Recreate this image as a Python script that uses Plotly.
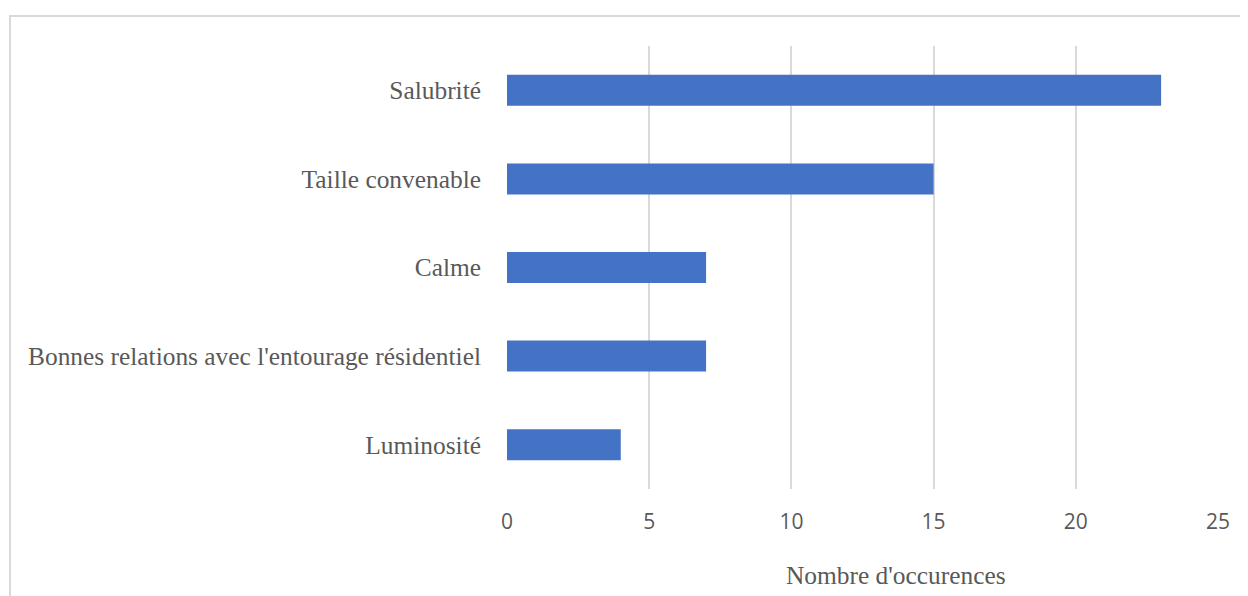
import plotly.graph_objects as go

categories = ["Salubrité", "Taille convenable", "Calme",
              "Bonnes relations avec l'entourage résidentiel", "Luminosité"]
values = [23, 15, 7, 7, 4]
x_ticks = [0, 5, 10, 15, 20, 25]
x_title = "Nombre d'occurences"

# page body has an 8px default margin; compensate so the chart lands where the reference is
OFF = 8
W, H = 1248, 596
L, R, T, B = 507 - OFF, 38, 46 - OFF, 115
pw, ph = W - L - R, H - T - B

def px_x(p):
    return (p - OFF - L) / pw

def px_y(p):
    return (H - B - (p - OFF)) / ph

fig = go.Figure(go.Bar(
    x=values[::-1], y=categories[::-1], orientation="h",
    marker=dict(color="#4472C4", line=dict(width=0)),
    hoverinfo="x+y",
))

fig.update_layout(
    width=W, height=H,
    margin=dict(l=L, r=R, t=T, b=B, pad=0),
    paper_bgcolor="white", plot_bgcolor="white",
    bargap=0.65,
    showlegend=False,
    xaxis=dict(
        range=[0, 25], tickvals=x_ticks, ticktext=[str(v) for v in x_ticks],
        showgrid=True, gridcolor="#D9D9D9", gridwidth=1.5,
        zeroline=False, showline=False,
        tickfont=dict(family="Open Sans", size=21, color="#595959"),
        ticks="", ticklabelstandoff=18,
    ),
    yaxis=dict(
        showgrid=False, zeroline=False, showline=False,
        tickfont=dict(family="Liberation Serif", size=25.4, color="#595959"),
        ticks="", ticklabelstandoff=25,
    ),
    shapes=[dict(
        type="rect", xref="paper", yref="paper",
        x0=px_x(10), x1=px_x(1300), y0=px_y(650), y1=px_y(16),
        line=dict(color="#D9D9D9", width=2), fillcolor="rgba(0,0,0,0)",
        layer="below",
    )],
    annotations=[dict(
        text=x_title, xref="paper", yref="paper",
        x=px_x(896), y=px_y(575), xanchor="center", yanchor="middle",
        showarrow=False,
        font=dict(family="Liberation Serif", size=25.4, color="#595959"),
    )],
)

fig.write_html("out.html")
